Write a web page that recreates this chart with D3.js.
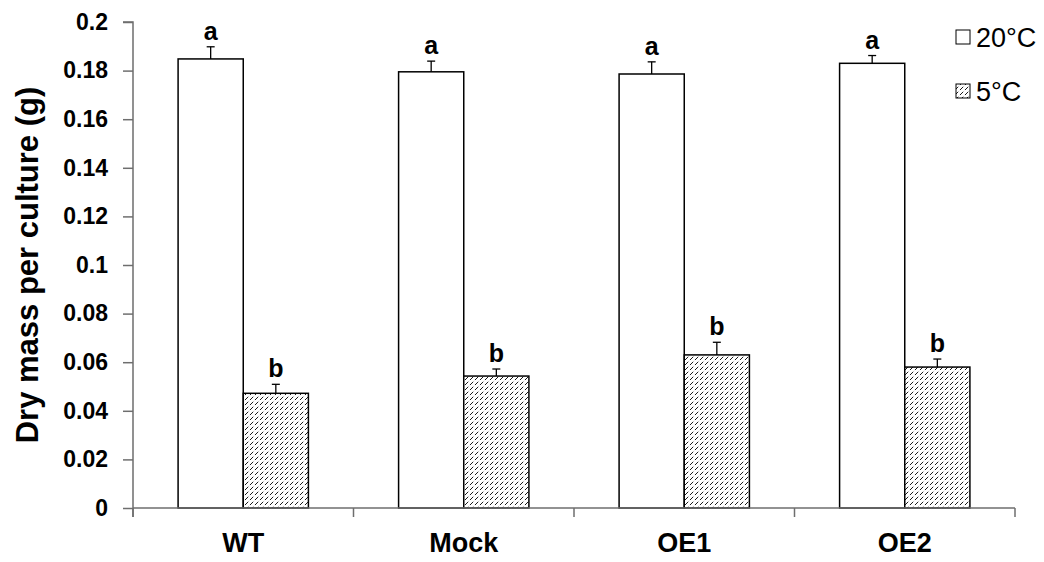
<!DOCTYPE html>
<html>
<head>
<meta charset="utf-8">
<script src="https://cdn.jsdelivr.net/npm/d3@7"></script>
<style>
  html, body { margin: 0; padding: 0; background: #fff; }
  svg { display: block; font-family: "Liberation Sans", Arial, sans-serif; }
</style>
</head>
<body>
<svg id="chart" width="1044" height="562"></svg>
<script>
// Dry mass per culture by line and growth temperature
const categories = ["WT", "Mock", "OE1", "OE2"];
const seriesNames = ["20°C", "5°C"];
const warmValues = [0.1848, 0.1795, 0.1786, 0.1830];
const warmErrors = [0.0050, 0.0044, 0.0050, 0.0032];
const coldValues = [0.0472, 0.0543, 0.0630, 0.0580];
const coldErrors = [0.0037, 0.0029, 0.0052, 0.0033];
const warmLetters = ["a", "a", "a", "a"];
const coldLetters = ["b", "b", "b", "b"];
const yTicks = [0, 0.02, 0.04, 0.06, 0.08, 0.1, 0.12, 0.14, 0.16, 0.18, 0.2];
const yTitle = "Dry mass per culture (g)";

const svg = d3.select("#chart");
const margin = { left: 133, right: 29, top: 22, bottom: 54 };
const W = 1044, H = 562;
const x0 = margin.left, x1 = W - margin.right;
const yTop = margin.top, yBot = H - margin.bottom;
const axisColor = "#6e6e6e";

const x = d3.scaleBand().domain(categories).range([x0, x1]).padding(0);
// two bars per category, gap between groups ~1.38 bar widths
const inner = d3.scaleBand().domain(seriesNames).range([0, x.bandwidth()])
  .paddingInner(0).paddingOuter(0.692);
const y = d3.scaleLinear().domain([0, 0.2]).range([yBot, yTop]);

// dense diagonal dashed hatch for the 5°C series
const defs = svg.append("defs");
const pat = defs.append("pattern")
  .attr("id", "hatch").attr("patternUnits", "userSpaceOnUse")
  .attr("width", 5).attr("height", 5);
pat.append("rect").attr("width", 5).attr("height", 5).attr("fill", "#fff");
pat.append("path")
  .attr("d", "M0,5 L5,0 M-2.5,2.5 L2.5,-2.5 M2.5,7.5 L7.5,2.5")
  .attr("stroke", "#1a1a1a").attr("stroke-width", 1.0)
  .attr("stroke-dasharray", "4.6,2.4").attr("fill", "none");

const series = [
  { name: seriesNames[0], values: warmValues, errors: warmErrors, letters: warmLetters, fill: "#fff" },
  { name: seriesNames[1], values: coldValues, errors: coldErrors, letters: coldLetters, fill: "url(#hatch)" }
];

// bars with upper error bars and significance letters
series.forEach(s => {
  const g = svg.append("g");
  categories.forEach((c, i) => {
    const bx = x(c) + inner(s.name);
    const bw = inner.bandwidth();
    const top = y(s.values[i]);
    g.append("rect")
      .attr("x", bx).attr("y", top)
      .attr("width", bw).attr("height", yBot - top)
      .attr("fill", s.fill).attr("stroke", "#000").attr("stroke-width", 1.5);
    const cx = bx + bw / 2;
    const ey = y(s.values[i] + s.errors[i]);
    g.append("line").attr("x1", cx).attr("x2", cx).attr("y1", top).attr("y2", ey)
      .attr("stroke", "#000").attr("stroke-width", 1.3);
    g.append("line").attr("x1", cx - 4).attr("x2", cx + 4).attr("y1", ey).attr("y2", ey)
      .attr("stroke", "#000").attr("stroke-width", 1.3);
    g.append("text").attr("x", cx).attr("y", ey - 7)
      .attr("text-anchor", "middle").attr("font-weight", "bold")
      .attr("font-size", 25).attr("fill", "#000").text(s.letters[i]);
  });
});

// y axis
const yAxis = d3.axisLeft(y).tickValues(yTicks).tickSize(10).tickPadding(15)
  .tickFormat(d => d === 0 ? "0" : String(+d.toFixed(2)));
const gy = svg.append("g").attr("transform", `translate(${x0},0)`).call(yAxis);
gy.select(".domain").attr("stroke", axisColor).attr("stroke-width", 1.5)
  .attr("d", `M-10,${yTop}H0V${yBot + 9}`);
gy.selectAll(".tick line").attr("stroke", axisColor).attr("stroke-width", 1.5);
gy.selectAll(".tick text").attr("font-size", 23).attr("font-weight", "bold")
  .attr("fill", "#000").attr("font-family", "Liberation Sans, Arial, sans-serif");

// x axis with tick marks between categories
const xAxis = d3.axisBottom(x).tickSize(0).tickPadding(25);
const gx = svg.append("g").attr("transform", `translate(0,${yBot})`).call(xAxis);
gx.select(".domain").attr("stroke", axisColor).attr("stroke-width", 1.5)
  .attr("d", `M${x0},0H${x1}`);
gx.selectAll(".tick text").attr("font-size", 27).attr("font-weight", "bold")
  .attr("fill", "#000").attr("font-family", "Liberation Sans, Arial, sans-serif");
const bounds = categories.map(c => x(c)).concat([x1]);
gx.selectAll(".sep").data(bounds).enter().append("line")
  .attr("x1", d => d).attr("x2", d => d).attr("y1", 0).attr("y2", 9)
  .attr("stroke", axisColor).attr("stroke-width", 1.5);

// y title
svg.append("text")
  .attr("transform", `translate(38,${(yTop + yBot) / 2}) rotate(-90)`)
  .attr("text-anchor", "middle").attr("font-weight", "bold")
  .attr("font-size", 31).attr("fill", "#000").text(yTitle);

// legend
const legend = svg.append("g");
series.forEach((s, i) => {
  const ly = 30 + i * 54;
  legend.append("rect").attr("x", 956).attr("y", ly).attr("width", 14).attr("height", 14)
    .attr("fill", s.fill).attr("stroke", "#000").attr("stroke-width", 1);
  legend.append("text").attr("x", 976).attr("y", ly + 17)
    .attr("font-size", 27).attr("fill", "#000").text(s.name);
});
</script>
</body>
</html>
